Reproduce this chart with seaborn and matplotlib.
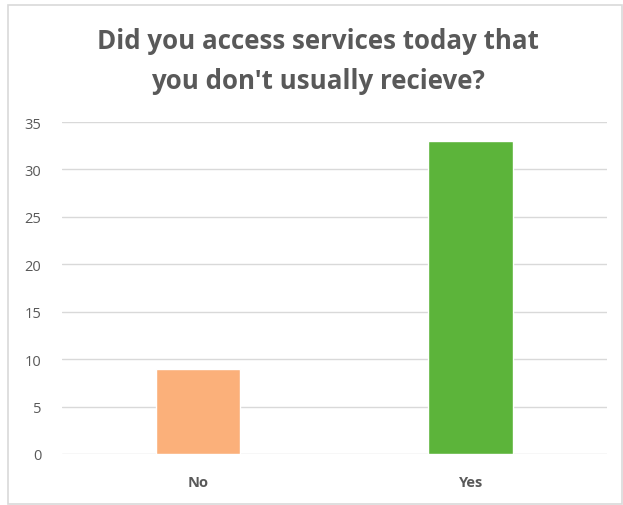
import matplotlib
matplotlib.use("Agg")
import matplotlib.pyplot as plt
import seaborn as sns
import pandas as pd
from matplotlib.patches import Rectangle

categories = ["No", "Yes"]
values = [9, 33]
colors = ["#FBB07A", "#5CB43A"]
yticks = [0, 5, 10, 15, 20, 25, 30, 35]
title = "Did you access services today that\nyou don't usually recieve?"

df = pd.DataFrame({"answer": categories, "count": values})

sns.set_style("white")
plt.rcParams["font.family"] = ["Open Sans", "DejaVu Sans"]

fig = plt.figure(figsize=(6.23, 5.06), dpi=100)
ax = fig.add_axes([0.0995, 0.1008, 0.8745, 0.656])

sns.barplot(data=df, x="answer", y="count", hue="answer", palette=colors,
            width=0.31, legend=False, ax=ax, saturation=1)

ax.set_ylim(0, 35)
ax.set_yticks(yticks)
ax.set_xlim(-0.5, 1.5)
ax.yaxis.grid(True, color="#D9D9D9", linewidth=1)
ax.set_axisbelow(True)
for s in ax.spines.values():
    s.set_visible(False)
ax.set_xlabel("")
ax.set_ylabel("")
ax.tick_params(axis="y", length=0, labelsize=10.5, labelcolor="#595959", pad=15)
ax.tick_params(axis="x", length=0, labelsize=10.5, labelcolor="#595959", pad=15)
for lbl in ax.get_xticklabels():
    lbl.set_fontweight("bold")

fig.text(0.511, 0.879, title, ha="center", va="center", fontsize=18.6,
         fontweight="bold", color="#595959", linespacing=1.6)

fig.patches.append(Rectangle((8/623, 1/506), 614/623, 499/506, transform=fig.transFigure,
                             fill=False, edgecolor="#D9D9D9", linewidth=1.2))

fig.savefig("out.png", dpi=100)
